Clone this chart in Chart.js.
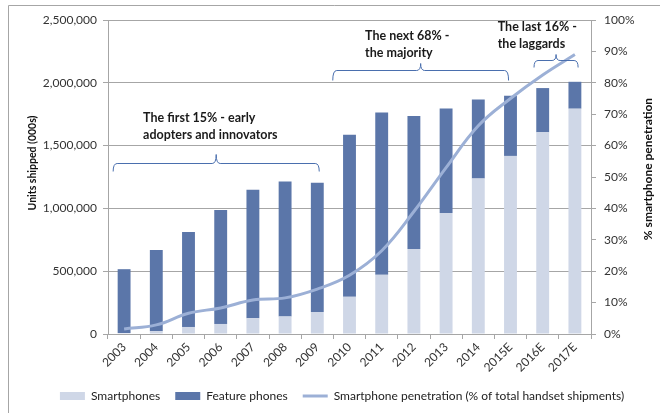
<!DOCTYPE html>
<html>
<head>
<meta charset="utf-8">
<script src="https://cdn.jsdelivr.net/npm/chart.js@4.4.1/dist/chart.umd.min.js"></script>
<style>
  html, body { margin: 0; padding: 0; background: #ffffff; }
  #wrap { width: 660px; height: 413px; position: relative; }
</style>
</head>
<body>
<div id="wrap"><canvas id="c" width="660" height="413"></canvas></div>
<script>
// ---- data ----
const categories = ['2003','2004','2005','2006','2007','2008','2009','2010','2011','2012','2013','2014','2015E','2016E','2017E'];
const smartphones = [8000, 21000, 56000, 80000, 125000, 140000, 175000, 296000, 471000, 677000, 963000, 1238000, 1418000, 1606000, 1794000];
const featurePhones = [508000, 648000, 756000, 907000, 1023000, 1074000, 1029000, 1291000, 1293000, 1059000, 833000, 630000, 479000, 352000, 214000];
const penetration = [1.6, 2.9, 6.6, 8.3, 10.8, 11.5, 14.3, 18.7, 26.5, 39, 53, 66.3, 75, 82.5, 89];
const unitTicks = [0, 500000, 1000000, 1500000, 2000000, 2500000];
const pctTicks = [0, 10, 20, 30, 40, 50, 60, 70, 80, 90, 100];

const FONT = 'Lato, "Open Sans", "DejaVu Sans", sans-serif';
const GRID = '#a6a6a6';
const TEXT = '#333333';
const BRACE = '#4a6fae';

const annotations = [
  { lines: ['The first 15% - early', 'adopters and innovators'], textIdx: 0, textDx: 19, textY: 1717000,
    from: 0, fromDx: -0.34, to: 6, toDx: 0.06, braceY: 1362000, depth: 8, tip: 9 },
  { lines: ['The next 68% -', 'the majority'], textIdx: 7, textDx: 15.5, textY: 2375000,
    from: 7, fromDx: -0.52, to: 12, toDx: -0.06, braceY: 2100000, depth: 10, tip: 7 },
  { lines: ['The last 16% -', 'the laggards'], textIdx: 12, textDx: -12.8, textY: 2446000,
    from: 13, fromDx: -0.27, to: 14, toDx: 0.1, braceY: 2185000, depth: 7, tip: 6 }
];

const decor = {
  id: 'decor',
  beforeDraw(chart) {
    const ctx = chart.ctx;
    ctx.save();
    ctx.strokeStyle = '#a6a6a6';
    ctx.lineWidth = 1;
    ctx.beginPath();
    ctx.moveTo(8.5, 413);
    ctx.lineTo(8.5, 5.5);
    ctx.lineTo(660, 5.5);
    ctx.stroke();
    ctx.restore();
  },
  afterDraw(chart) {
    const ctx = chart.ctx;
    const x = chart.scales.x, y = chart.scales.y, area = chart.chartArea;
    const cw = x.getPixelForValue(1) - x.getPixelForValue(0);
    ctx.save();
    // right axis title (reads bottom-to-top)
    ctx.fillStyle = '#111';
    ctx.font = 'bold 12px ' + FONT;
    ctx.textAlign = 'center';
    ctx.textBaseline = 'middle';
    ctx.save();
    ctx.translate(648, (area.top + area.bottom) / 2 - 8);
    ctx.rotate(-Math.PI / 2);
    ctx.fillText('% smartphone penetration', 0, 0);
    ctx.restore();
    // left axis title
    ctx.save();
    ctx.font = 'bold 10.5px ' + FONT;
    ctx.translate(33, (area.top + area.bottom) / 2 - 14);
    ctx.rotate(-Math.PI / 2);
    ctx.fillText('Units shipped (000s)', 0, 0);
    ctx.restore();

    annotations.forEach(a => {
      const x1 = x.getPixelForValue(a.from) + a.fromDx * cw;
      const x2 = x.getPixelForValue(a.to) + a.toDx * cw;
      const xm = (x1 + x2) / 2;
      const by = Math.round(y.getPixelForValue(a.braceY)) + 0.5;
      const r = 4;
      ctx.strokeStyle = BRACE;
      ctx.lineWidth = 1;
      ctx.beginPath();
      ctx.moveTo(x1, by + a.depth);
      ctx.quadraticCurveTo(x1, by, x1 + r, by);
      ctx.lineTo(xm - r, by);
      ctx.quadraticCurveTo(xm, by, xm, by - a.tip);
      ctx.quadraticCurveTo(xm, by, xm + r, by);
      ctx.lineTo(x2 - r, by);
      ctx.quadraticCurveTo(x2, by, x2, by + a.depth);
      ctx.stroke();

      ctx.fillStyle = '#1a1a1a';
      ctx.font = 'bold 12.5px ' + FONT;
      ctx.textAlign = 'left';
      ctx.textBaseline = 'middle';
      const tx = x.getPixelForValue(a.textIdx) + a.textDx;
      const ty = y.getPixelForValue(a.textY);
      a.lines.forEach((ln, i) => ctx.fillText(ln, tx, ty + i * 17));
    });
    ctx.restore();
  }
};

const ctx = document.getElementById('c').getContext('2d');
new Chart(ctx, {
  data: {
    labels: categories,
    datasets: [
      { type: 'bar', label: 'Smartphones', data: smartphones, backgroundColor: '#cfd7e7',
        yAxisID: 'y', stack: 's', order: 1, pointStyle: 'rect', borderWidth: 0 },
      { type: 'bar', label: 'Feature phones', data: featurePhones, backgroundColor: '#5b76a9',
        yAxisID: 'y', stack: 's', order: 1, pointStyle: 'rect', borderWidth: 0 },
      { type: 'line', label: 'Smartphone penetration (% of total handset shipments)', data: penetration,
        yAxisID: 'y1', borderColor: '#9cb0d6', backgroundColor: '#9cb0d6', borderWidth: 3,
        pointRadius: 0, pointHoverRadius: 0, tension: 0.4, order: 0, pointStyle: 'line', fill: false }
    ]
  },
  options: {
    responsive: false,
    animation: false,
    devicePixelRatio: 1,
    layout: { padding: { top: 20, left: 24, right: 0, bottom: 1 } },
    datasets: { bar: { barPercentage: 0.4, categoryPercentage: 1.0 } },
    plugins: {
      legend: {
        position: 'bottom',
        labels: {
          usePointStyle: true, pointStyleWidth: 25, boxHeight: 8, padding: 15,
          font: { family: FONT, size: 12 }, color: '#222',
          sort: (a, b) => a.datasetIndex - b.datasetIndex
        }
      },
      tooltip: { enabled: false }
    },
    scales: {
      x: {
        stacked: true,
        offset: true,
        grid: { display: true, drawOnChartArea: false, offset: true, tickLength: 5, color: GRID },
        border: { display: true, color: GRID },
        ticks: { maxRotation: 45, minRotation: 45, autoSkip: false, padding: 1,
                 font: { family: FONT, size: 12 }, color: TEXT },
        afterFit(s) { s.height = 41; }
      },
      y: {
        position: 'left',
        stacked: true,
        min: 0, max: 2500000,
        afterBuildTicks(s) { s.ticks = unitTicks.map(v => ({ value: v })); },
        grid: { color: GRID, tickLength: 5, drawTicks: true },
        border: { display: true, color: GRID },
        ticks: { padding: 6, font: { family: FONT, size: 12 }, color: TEXT,
                 callback: v => v.toLocaleString('en-US') },
        afterFit(s) { s.width = 84; }
      },
      y1: {
        position: 'right',
        min: 0, max: 100,
        afterBuildTicks(s) { s.ticks = pctTicks.map(v => ({ value: v })); },
        grid: { drawOnChartArea: false, color: GRID, tickLength: 5 },
        border: { display: true, color: GRID },
        ticks: { padding: 8, font: { family: FONT, size: 12 }, color: TEXT,
                 callback: v => v + '%' },
        afterFit(s) { s.width = 69; }
      }
    }
  },
  plugins: [decor]
});
</script>
</body>
</html>
